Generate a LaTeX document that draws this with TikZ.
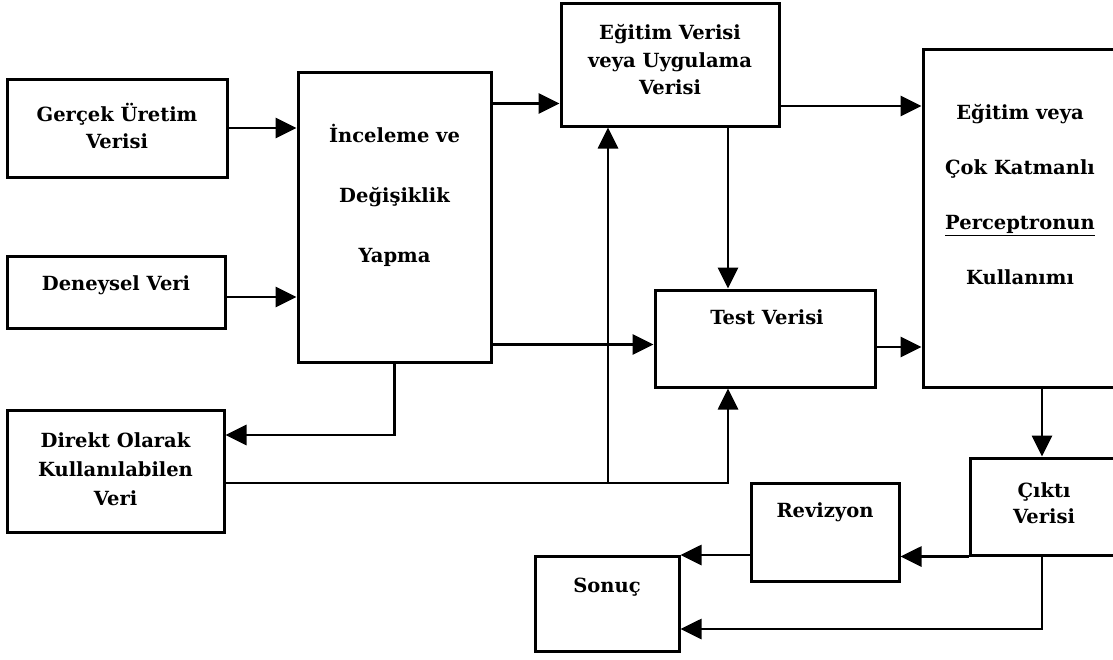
\documentclass[tikz,border=0pt]{standalone}
\usepackage{fontspec}
\setmainfont{DejaVu Serif}
\usetikzlibrary{arrows.meta}
\begin{document}
\begin{tikzpicture}[x=1pt,y=-1pt,
  box/.style={draw=black,line width=3pt,rectangle,inner sep=0pt},
  txt/.style={align=center,inner sep=0pt,font=\bfseries\fontsize{19.5}{27}\selectfont},
  arr/.style={line width=2.8pt,-{Triangle[length=21pt,width=20pt]}}]
\useasboundingbox (0,0) rectangle (1113,659);
\fill[white] (0,0) rectangle (1113,659);
\clip (0,0) rectangle (1113,659);

% boxes
\node[box,minimum width=220pt,minimum height=98pt]  (G) at (117,128) {};
\node[box,minimum width=193pt,minimum height=290pt] (I) at (394.5,217) {};
\node[box,minimum width=218pt,minimum height=72pt]  (D) at (116,292) {};
\node[box,minimum width=217pt,minimum height=122pt] (R) at (115.5,471) {};
\node[box,minimum width=218pt,minimum height=123pt] (E) at (670,64.5) {};
\node[box,minimum width=220pt,minimum height=97pt]  (T) at (765,338.5) {};
\node[box,minimum width=195pt,minimum height=338pt] (M) at (1020.5,218) {};
\node[box,minimum width=148pt,minimum height=97pt]  (C) at (1044,506.5) {};
\node[box,minimum width=148pt,minimum height=98pt]  (V) at (825,532) {};
\node[box,minimum width=144pt,minimum height=95pt]  (S) at (607,603.5) {};

% labels
\node[txt] (Gt) at (117,126) {Gerçek Üretim\\Verisi};
\node[txt,font=\bfseries\fontsize{19.5}{60}\selectfont] (It) at (394.5,195) {İnceleme ve\\Değişiklik\\Yapma};
\node[txt] (Dt) at (116,285) {Deneysel Veri};
\node[txt,font=\bfseries\fontsize{19.5}{29}\selectfont] (Rt) at (115.5,469) {Direkt Olarak\\Kullanılabilen\\Veri};
\node[txt,font=\bfseries\fontsize{19.5}{27.5}\selectfont] (Et) at (670,60) {Eğitim Verisi\\veya Uygulama\\Verisi};
\node[txt] (Tt) at (767,317) {Test Verisi};
\node[txt,font=\bfseries\fontsize{19.5}{55}\selectfont] (Mt) at (1020,195) {Eğitim veya\\Çok Katmanlı\\\underline{Perceptronun}\\Kullanımı};
\node[txt,font=\bfseries\fontsize{19.5}{26}\selectfont] (Ct) at (1044,503) {Çıktı\\Verisi};
\node[txt] (Vt) at (825,512) {Revizyon};
\node[txt] (St) at (607,587) {Sonuç};

% branch points
\path (D.east) ++(0,5) coordinate (d1);
\path (I.north east) ++(0,33) coordinate (i1);
\path (I.north east) ++(0,274) coordinate (i2);
\path (R.east) ++(0,-36) coordinate (r1);
\path (R.east) ++(0,12) coordinate (r2);
\path (T.south) ++(-37,0) coordinate (t1);
\path (E.south) ++(-62,0) coordinate (e1);
\path (E.south) ++(58,0) coordinate (e2);
\path (E.east) ++(0,41.5) coordinate (e3);
\path (T.east) ++(0,8.5) coordinate (t2);
\path (M.south) ++(21.5,0) coordinate (m1);
\path (V.west) ++(0,23) coordinate (v1);
\path (C.south) ++(-2,0) coordinate (c1);
\path (S.east) ++(0,25.5) coordinate (s1);

% connectors
\draw[arr] (G.east) -- (G.east -| I.west);
\draw[arr] (d1) -- (d1 -| I.west);
\draw[arr] (i1) -- (i1 -| E.west);
\draw[arr] (I.south) |- (r1);
\draw[arr] (i2) -- (i2 -| T.west);
\draw[arr] (r2) -| (t1);
\draw[arr] (e1 |- r2) -- (e1);
\draw[arr] (e2) -- (e2 |- T.north);
\draw[arr] (e3) -- (e3 -| M.west);
\draw[arr] (t2) -- (t2 -| M.west);
\draw[arr] (m1) -- (m1 |- C.north);
\draw[arr] (C.south west) -- (C.south west -| V.east);
\draw[arr] (v1) -- (v1 -| S.east);
\draw[arr] (c1) |- (s1);
\end{tikzpicture}
\end{document}
